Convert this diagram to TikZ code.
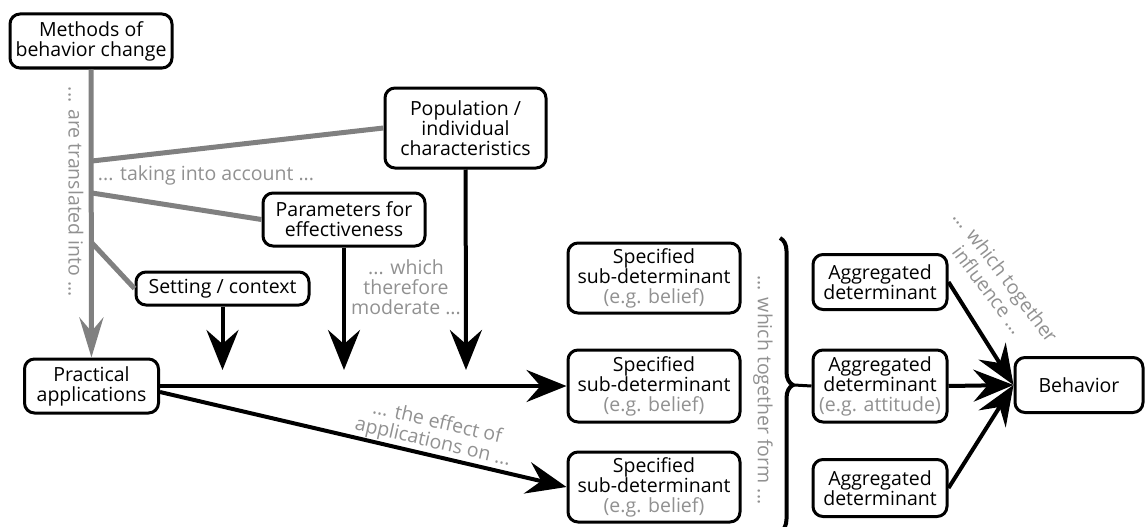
\documentclass[tikz,border=0pt]{standalone}
\usepackage{fontspec}
\setmainfont{Open Sans}
\usetikzlibrary{arrows.meta,decorations.pathreplacing}
\definecolor{lgray}{RGB}{128,128,128}
\definecolor{tgray}{RGB}{145,145,145}
\begin{document}
\begin{tikzpicture}[x=1pt,y=-1pt,
  font=\fontsize{19.5}{20}\selectfont,
  box/.style={draw, line width=3pt, rounded corners=10pt, fill=white, align=center, inner sep=0pt},
  glink/.style={lgray, line width=5pt},
  marrow/.style={line width=4pt, -{Stealth[length=40pt,width=32pt,inset=14pt]}},
  note/.style={tgray, align=center, inner sep=0pt}]
\useasboundingbox (0,0) rectangle (1145,527);
\node[box, minimum width=162pt, minimum height=54pt] (meth) at (91,41) {Methods of\\behavior change};
\node[box, minimum width=161pt, minimum height=80pt] (pop) at (465.5,128) {Population /\\individual\\characteristics};
\node[box, minimum width=162pt, minimum height=53pt] (par) at (344,219.5) {Parameters for\\effectiveness};
\node[box, minimum width=173pt, minimum height=33pt] (set) at (222.5,288.5) {Setting / context};
\node[box, minimum width=134pt, minimum height=54pt] (prac) at (91.5,386) {Practical\\applications};
\node[box, minimum width=172pt, minimum height=70pt] (spec1) at (654,278) {Specified\\sub-determinant\\{\color{tgray}(e.g. belief)}};
\node[box, minimum width=172pt, minimum height=72pt] (spec2) at (654,386) {Specified\\sub-determinant\\{\color{tgray}(e.g. belief)}};
\node[box, minimum width=172pt, minimum height=70pt] (spec3) at (654,487) {Specified\\sub-determinant\\{\color{tgray}(e.g. belief)}};
\node[box, minimum width=134pt, minimum height=55pt] (agg1) at (880,282) {Aggregated\\determinant};
\node[box, minimum width=134pt, minimum height=72pt] (agg2) at (880,386) {Aggregated\\determinant\\{\color{tgray}(e.g. attitude)}};
\node[box, minimum width=134pt, minimum height=57pt] (agg3) at (880,488) {Aggregated\\determinant};
\node[box, minimum width=128pt, minimum height=55pt] (beh) at (1079,385) {Behavior};
% joints on the grey line and free arrow ends
\coordinate (j1) at (92,161);
\coordinate (j2) at (92,193);
\coordinate (j3) at (92,243);
\coordinate (mset) at (222.5,370);
\coordinate (mpar) at (344,370);
\coordinate (mpop) at (466,370);
\coordinate (btip) at (794,385);
\draw[glink, -{Stealth[length=40pt,width=24pt,inset=14pt]}] (meth) -- (prac);
\draw[glink] (j1) -- (pop.west);
\draw[glink] (j2) -- (par.west);
\draw[glink] (j3) -- (set.west);
\draw[marrow] (set) -- (mset);
\draw[marrow] (par) -- (mpar);
\draw[marrow] (pop) -- (mpop);
\draw[marrow] (prac.east) -- (spec2.west);
\draw[marrow] ([yshift=-6pt]prac.east) -- (spec3.west);
\draw[line width=4pt, decorate, decoration={brace, amplitude=13pt}] (780,238) -- (780,532);
\draw[line width=3pt] (btip) -- (agg2.west);
\draw[marrow] (agg1.east) -- (beh.west);
\draw[marrow] (agg2.east) -- (beh.west);
\draw[marrow] (agg3.east) -- (beh.west);
% labels
\node[note, rotate=-90] (ltrans) at (76,192) {... are translated into ...};
\node[note] (lacc) at (206,175) {... taking into account ...};
\node[note] (lmod) at (406,287) {... which\\therefore\\moderate ...};
\node[note, rotate=-13] (leff) at (435,433) {... the effect of\\applications on ...};
\node[note, rotate=-90] (lform) at (763,390) {... which together form ...};
\node[note, rotate=-53] (linf) at (997,283) {... which together\\[2pt]influence ...};
\end{tikzpicture}
\end{document}
